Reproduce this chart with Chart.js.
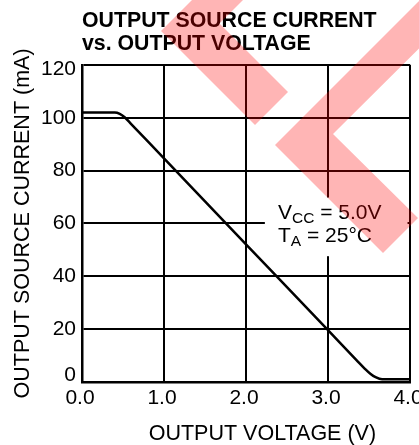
<!DOCTYPE html>
<html>
<head>
<meta charset="utf-8">
<script src="https://cdn.jsdelivr.net/npm/chart.js@4/dist/chart.umd.min.js"></script>
<style>
html,body{margin:0;padding:0;background:#fff;}
#wrap{width:419px;height:445px;position:relative;}
canvas{display:block;}
</style>
</head>
<body>
<div id="wrap"><canvas id="c" width="419" height="445"></canvas></div>
<script>
// ---- data ----
const titleLines = ['OUTPUT SOURCE CURRENT', 'vs. OUTPUT VOLTAGE'];
const xAxisTitle = 'OUTPUT VOLTAGE (V)';
const yAxisTitle = 'OUTPUT SOURCE CURRENT (mA)';
const xTickValues = [0, 1, 2, 3, 4];
const yTickValues = [0, 20, 40, 60, 80, 100, 120];
const voltage = [0, 0.40, 0.46, 0.52, 0.60, 1.0, 2.0, 3.0, 3.35, 3.45, 3.52, 3.58, 3.66, 4.0];
const current = [102, 102, 101.5, 100.2, 97.6, 84.6, 52.1, 19.6, 8.2, 5.0, 3.0, 1.8, 1.0, 1.0];
const conditionLine1 = ['V', 'CC', ' = 5.0V'];
const conditionLine2 = ['T', 'A', ' = 25°C'];

// ---- layout / style ----
const FONT = "'Liberation Sans', Arial, Helvetica, sans-serif";
const ANNOT = { textX: 2.39, line1Y: 61.6, line2Y: 52.8, boxX0: 2.23, boxX1: 3.97, boxYTop: 69.8, boxYBot: 47.6 };
const X_TITLE_CENTER = 2.2;
const WATERMARK = [
  [[202,-10],[161,31],[255,125],[288,92],[219.5,23.5],[253,-10]],
  [[430,-10],[275,145],[383,253],[418,218],[333,134],[478,-10]]
];

const annotationPlugin = {
  id: 'annot',
  beforeDatasetsDraw(chart) {
    const {ctx, scales: {x, y}} = chart;
    ctx.save();
    ctx.fillStyle = '#fff';
    const x0 = x.getPixelForValue(ANNOT.boxX0), x1 = x.getPixelForValue(ANNOT.boxX1);
    const y0 = y.getPixelForValue(ANNOT.boxYTop), y1 = y.getPixelForValue(ANNOT.boxYBot);
    ctx.fillRect(x0, y0, x1 - x0, y1 - y0);
    ctx.fillStyle = '#000';
    ctx.textBaseline = 'alphabetic';
    ctx.textAlign = 'left';
    const drawLine = (parts, yv) => {
      let px = x.getPixelForValue(ANNOT.textX);
      const py = y.getPixelForValue(yv);
      ctx.font = '21px ' + FONT; ctx.fillText(parts[0], px, py); px += ctx.measureText(parts[0]).width;
      ctx.font = '15.5px ' + FONT; ctx.fillText(parts[1], px, py + 4); px += ctx.measureText(parts[1]).width;
      ctx.font = '21px ' + FONT; ctx.fillText(parts[2], px, py);
    };
    drawLine(conditionLine1, ANNOT.line1Y);
    drawLine(conditionLine2, ANNOT.line2Y);
    ctx.restore();
  },
  afterDraw(chart) {
    const {ctx, scales: {x}} = chart;
    ctx.save();
    ctx.fillStyle = '#000';
    ctx.font = '21.5px ' + FONT;
    ctx.textAlign = 'center';
    ctx.textBaseline = 'alphabetic';
    ctx.fillText(xAxisTitle, x.getPixelForValue(X_TITLE_CENTER), chart.height - 5);
    // watermark
    ctx.fillStyle = 'rgba(255,0,0,0.29)';
    for (const poly of WATERMARK) {
      ctx.beginPath();
      poly.forEach(([px, py], i) => i ? ctx.lineTo(px, py) : ctx.moveTo(px, py));
      ctx.closePath();
      ctx.fill();
    }
    ctx.restore();
  }
};

new Chart(document.getElementById('c'), {
  type: 'line',
  data: {
    datasets: [{
      data: voltage.map((v, i) => ({ x: v, y: current[i] })),
      borderColor: '#000',
      borderWidth: 2.5,
      pointRadius: 0,
      fill: false,
      cubicInterpolationMode: 'monotone'
    }]
  },
  options: {
    responsive: false,
    animation: false,
    devicePixelRatio: 1,
    layout: { padding: { left: 0, right: 9, top: 0, bottom: 0 } },
    plugins: {
      legend: { display: false },
      tooltip: { enabled: false },
      title: {
        display: true,
        text: titleLines,
        align: 'start',
        fullSize: false,
        color: '#000',
        font: { family: FONT, size: 21.3, weight: 'bold', lineHeight: 1.1 },
        padding: { top: 9, bottom: 9 }
      }
    },
    scales: {
      x: {
        type: 'linear',
        min: 0, max: 4,
        afterBuildTicks: s => { s.ticks = xTickValues.map(v => ({ value: v })); },
        afterFit: s => { s.height = 63; s.paddingLeft = 0; s.paddingRight = 0; },
        ticks: {
          callback: v => Number(v).toFixed(1),
          color: '#000',
          font: { family: FONT, size: 21 },
          padding: 4,
          labelOffset: -2,
          maxRotation: 0,
          autoSkip: false
        },
        grid: { color: '#000', lineWidth: 2, drawTicks: false },
        border: { color: '#000', width: 2.5 }
      },
      y: {
        min: 0, max: 120,
        afterBuildTicks: s => { s.ticks = yTickValues.map(v => ({ value: v })); },
        afterFit: s => { s.width = 82; },
        ticks: {
          callback: v => v === 0 ? ['0', ''] : (v === 120 ? ['', '120'] : String(v)),
          color: '#000',
          font: c => ({ family: FONT, size: 21, lineHeight: (c.tick && c.tick.value === 0) ? 0.62 : ((c.tick && c.tick.value === 120) ? 0.43 : 1.2) }),
          padding: 6,
          autoSkip: false
        },
        grid: { color: '#000', lineWidth: 2, drawTicks: false },
        border: { color: '#000', width: 2.5 },
        title: {
          display: true,
          text: yAxisTitle,
          color: '#000',
          font: { family: FONT, size: 21.5 },
          padding: { top: 10, bottom: 0 }
        }
      }
    }
  },
  plugins: [annotationPlugin]
});
</script>
</body>
</html>
